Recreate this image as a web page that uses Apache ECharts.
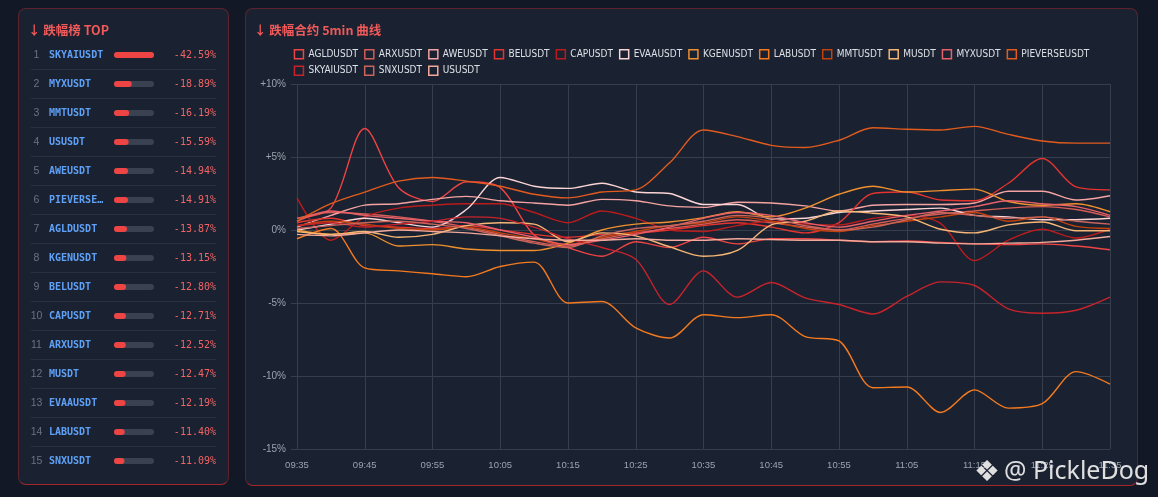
<!DOCTYPE html>
<html>
<head>
<meta charset="utf-8">
<script src="https://cdn.jsdelivr.net/npm/echarts@6/dist/echarts.min.js"></script>
<style>
  html, body { margin: 0; padding: 0; background: #121826; width: 1158px; height: 497px; overflow: hidden; }
  .panel {
    position: absolute;
    background: #1a2130;
    border: 1px solid rgba(200, 40, 40, 0.38);
    border-bottom-color: rgba(210, 40, 40, 0.75);
    border-radius: 8px;
  }
  #rankPanel { left: 18px; top: 8px; width: 209px; height: 475px; }
  #curvePanel { left: 245px; top: 8px; width: 891px; height: 476px; }
  #rankChart { width: 209px; height: 475px; }
  #curveChart { width: 891px; height: 476px; }
  #mark {
    position: absolute; left: 974px; top: 452px;
    font-family: "Noto Sans", "Open Sans", sans-serif; font-size: 25px;
    color: rgba(240, 240, 240, 0.92); white-space: nowrap;
  }
  #mark .logo { font-family: "DejaVu Sans", sans-serif; font-size: 29px; margin-right: 4px; vertical-align: -2px; }
</style>
</head>
<body>
<div class="panel" id="rankPanel"><div id="rankChart"></div></div>
<div class="panel" id="curvePanel"><div id="curveChart"></div></div>
<div id="mark"><span class="logo">❖</span>@ PickleDog</div>
<script>
// 跌幅榜 TOP 15
const rankNames = ['SKYAIUSDT', 'MYXUSDT', 'MMTUSDT', 'USUSDT', 'AWEUSDT', 'PIEVERSEUSDT', 'AGLDUSDT', 'KGENUSDT',
  'BELUSDT', 'CAPUSDT', 'ARXUSDT', 'MUSDT', 'EVAAUSDT', 'LABUSDT', 'SNXUSDT'];
const rankDrops = [-42.59, -18.89, -16.19, -15.59, -14.94, -14.91, -13.87, -13.15, -12.80, -12.71, -12.52, -12.47, -12.19, -11.40, -11.09];

// 5min 曲线
const times = ['09:35', '09:40', '09:45', '09:50', '09:55', '10:00', '10:05', '10:10', '10:15', '10:20', '10:25', '10:30', '10:35',
  '10:40', '10:45', '10:50', '10:55', '11:00', '11:05', '11:10', '11:15', '11:20', '11:25', '11:30', '11:35'];
const yTicks = [-15, -10, -5, 0, 5, 10];

const AGLDUSDT = [0.8, 1.5, 6.95, 2.9, 1.95, 3.3, 2.9, -0.35, -1.2, -1.8, -0.8, -1.2, -0.5, -0.95, -0.6, -0.6, -0.7, -0.8, -0.75, -0.85, -0.95, -1.0, -0.95, -1.1, -1.35];
const ARXUSDT = [0.8, 1.2, 1.1, 0.9, 0.6, 0.2, -0.3, -0.8, -1.1, -0.6, -0.2, 0.1, 0.4, 0.7, 0.5, 0.2, 0.0, 0.4, 0.8, 1.1, 1.3, 1.5, 1.6, 1.4, 0.9];
const AWEUSDT = [0.2, 1.0, 1.7, 1.8, 2.1, 2.3, 2.0, 1.85, 1.7, 2.1, 2.0, 1.65, 1.55, 1.9, 1.85, 1.65, 1.3, 1.7, 1.75, 1.75, 1.85, 2.65, 2.65, 2.05, 2.35];
const BELUSDT = [0.5, 0.8, 0.3, 0.2, 0.1, 0.3, 0.0, -0.3, -0.5, -0.3, -0.2, 0.0, 0.3, 0.5, 0.2, -0.2, 0.5, 2.5, 2.6, 2.05, 2.0, 3.2, 4.9, 2.95, 2.75];
const CAPUSDT = [2.2, -0.7, 0.9, 1.5, 1.7, 1.8, 1.8, 1.2, 0.5, 1.3, 0.8, 0.0, -0.1, 0.3, 0.6, 0.4, 0.35, 0.8, 1.0, 0.45, -2.1, -0.7, 0.05, -0.55, 0.05];
const EVAAUSDT = [0.0, 0.4, 0.8, 0.5, 0.2, 1.4, 3.6, 3.0, 2.85, 3.2, 2.6, 2.5, 1.75, 1.75, 0.75, 0.8, 1.2, 1.3, 1.4, 1.5, 1.0, 0.9, 0.7, 0.7, 0.8];
const KGENUSDT = [0.0, -0.3, -0.2, -1.1, -1.0, -1.3, -1.4, -1.4, -0.9, 0.0, 0.4, 0.55, 0.85, 1.25, 0.9, 1.5, 2.45, 3.0, 2.6, 2.7, 2.8, 1.95, 1.7, 1.8, 1.25];
const LABUSDT = [-0.6, 0.1, -2.6, -2.8, -3.0, -3.2, -2.5, -2.2, -5.0, -4.9, -6.7, -7.4, -5.8, -6.0, -5.8, -7.3, -7.6, -10.8, -10.75, -12.5, -10.95, -12.2, -11.9, -9.7, -10.55];
const MMTUSDT = [0.3, 0.6, 0.4, 0.1, 0.0, 0.2, -0.2, -0.6, -1.0, -0.5, -0.1, 0.3, 0.5, 0.9, 0.6, 0.1, -0.1, 0.3, 0.6, 0.9, 1.2, 0.6, 0.9, 0.25, 0.1];
const MUSDT = [-0.1, -0.3, -0.1, -0.5, -0.3, 0.3, 0.5, 0.4, -0.8, -0.2, -0.4, -1.15, -1.8, -1.4, 0.35, 0.6, 1.3, 1.15, 0.9, 0.05, -0.2, 0.35, 0.55, -0.05, -0.05];
const MYXUSDT = [0.6, 1.3, 1.0, 0.8, 0.6, 0.5, 0.0, -0.5, -1.0, -0.7, -0.3, 0.2, 0.8, 1.2, 1.0, 0.5, 0.2, 0.6, 1.0, 1.3, 1.6, 2.0, 1.8, 1.6, 1.0];
const PIEVERSEUSDT = [0.6, 1.8, 2.6, 3.35, 3.6, 3.35, 3.0, 2.45, 2.2, 2.6, 2.75, 4.6, 6.85, 6.4, 5.8, 5.65, 6.15, 7.0, 6.9, 6.85, 7.1, 6.55, 6.1, 5.95, 5.95];
const SKYAIUSDT = [0.3, 0.5, 0.2, 0.4, 0.6, 0.9, 0.8, 0.2, -0.6, -1.2, -2.0, -5.1, -2.8, -4.6, -3.6, -4.65, -5.1, -5.75, -4.55, -3.55, -3.8, -5.4, -5.7, -5.5, -4.6];
const SNXUSDT = [0.1, 0.3, 0.5, 0.6, 0.4, 0.1, -0.4, -0.9, -1.2, -0.4, 0.1, 0.3, 0.6, 1.0, 0.8, 0.3, 0.0, 0.2, 0.7, 1.2, 1.0, 0.8, 0.9, 0.6, 0.4];
const USUSDT = [-0.3, -0.4, -0.2, 0.0, -0.1, -0.2, -0.4, -0.6, -0.7, -0.7, -0.6, -0.7, -0.7, -0.6, -0.65, -0.7, -0.7, -0.8, -0.8, -0.9, -0.95, -0.9, -0.85, -0.7, -0.45];

const curveNames = ['AGLDUSDT', 'ARXUSDT', 'AWEUSDT', 'BELUSDT', 'CAPUSDT', 'EVAAUSDT', 'KGENUSDT', 'LABUSDT',
  'MMTUSDT', 'MUSDT', 'MYXUSDT', 'PIEVERSEUSDT', 'SKYAIUSDT', 'SNXUSDT', 'USUSDT'];
const curveData = [AGLDUSDT, ARXUSDT, AWEUSDT, BELUSDT, CAPUSDT, EVAAUSDT, KGENUSDT, LABUSDT,
  MMTUSDT, MUSDT, MYXUSDT, PIEVERSEUSDT, SKYAIUSDT, SNXUSDT, USUSDT];
const curveColors = ['#ef4444', '#d45d57', '#f5a3a3', '#e3342f', '#b91c1c', '#fbd5d5', '#f0902e', '#f47a1f',
  '#c2410c', '#f6b676', '#e8616a', '#e25b1e', '#c8232b', '#c9655c', '#f3aa9c'];

const titleStyle = { color: '#f05a5a', fontSize: 12.5, fontWeight: 'bold', fontFamily: '"Noto Sans CJK SC", sans-serif' };
const panelBg = '#1a2130';

// ---------- 左侧榜单 ----------
const rankChart = echarts.init(document.getElementById('rankChart'));
rankChart.setOption({
  animation: false,
  title: { text: '↓ 跌幅榜 TOP', left: 4, top: 10, textStyle: titleStyle },
  grid: [
    { left: 95, right: 74, top: 31.5, bottom: 8.5 },
    { left: 12, right: 12, top: 60.5, bottom: 37.5 }
  ],
  xAxis: [
    { gridIndex: 0, type: 'value', min: 0, max: v => v.max, show: false },
    { gridIndex: 1, type: 'value', min: 0, max: 1, axisLine: { show: false }, axisTick: { show: false }, axisLabel: { show: false }, splitLine: { show: false } }
  ],
  yAxis: [
    {
      gridIndex: 0, type: 'category', inverse: true, data: rankNames,
      axisLine: { show: false }, axisTick: { show: false },
      axisLabel: {
        align: 'left', margin: 83,
        formatter: (name, i) => {
          const short = name.length > 9 ? name.slice(0, 8) + '…' : name;
          return '{r|' + (i + 1) + '}{n|' + short + '}';
        },
        rich: {
          r: { width: 11, align: 'center', color: '#6b7280', fontSize: 10.5, fontFamily: '"Liberation Sans", sans-serif' },
          n: { color: '#5ea1f7', fontSize: 10, fontWeight: 'bold', fontFamily: '"DejaVu Sans Mono", monospace', padding: [0, 0, 0, 7] }
        }
      }
    },
    {
      gridIndex: 0, type: 'category', inverse: true, position: 'right', data: rankDrops,
      axisLine: { show: false }, axisTick: { show: false },
      axisLabel: {
        align: 'right', margin: 62, color: '#f26464', fontSize: 10, fontFamily: '"DejaVu Sans Mono", monospace',
        formatter: v => Number(v).toFixed(2) + '%'
      }
    },
    {
      gridIndex: 1, type: 'value', min: 0, max: 13, interval: 1,
      axisLine: { show: false }, axisTick: { show: false }, axisLabel: { show: false },
      splitLine: { lineStyle: { color: '#283041', width: 1 } }
    }
  ],
  series: [{
    type: 'bar', xAxisIndex: 0, yAxisIndex: 0,
    data: rankDrops.map(v => Math.abs(v)),
    barWidth: 6,
    showBackground: true,
    backgroundStyle: { color: '#3a4251', borderRadius: 3 },
    itemStyle: { color: '#ef4444', borderRadius: 3 }
  }]
});

// ---------- 右侧曲线 ----------
const curveChart = echarts.init(document.getElementById('curveChart'));
curveChart.setOption({
  animation: false,
  title: { text: '↓ 跌幅合约 5min 曲线', left: 3, top: 10, textStyle: titleStyle },
  legend: {
    left: 'center', top: 35, width: 800,
    icon: 'rect', itemWidth: 9, itemHeight: 9, itemGap: 6,
    textStyle: { color: '#dde1e7', fontSize: 10, lineHeight: 10, fontFamily: '"DejaVu Sans Condensed", "Liberation Sans", sans-serif' },
    data: curveNames.map((n, i) => ({ name: n, itemStyle: { color: panelBg, borderColor: curveColors[i], borderWidth: 1.5 } }))
  },
  grid: { left: 51, right: 27, top: 75, bottom: 36 },
  xAxis: {
    type: 'category', boundaryGap: false, data: times,
    axisLine: { lineStyle: { color: '#363e4d' } },
    axisTick: { show: true, interval: 1, length: 5, lineStyle: { color: '#363e4d' } },
    axisLabel: { interval: 1, color: '#9ca3af', fontSize: 9.5, margin: 11, fontFamily: '"Liberation Sans", sans-serif' },
    splitLine: { show: true, interval: 1, lineStyle: { color: '#363e4d' } }
  },
  yAxis: {
    type: 'value', min: yTicks[0], max: yTicks[yTicks.length - 1], interval: 5,
    axisLine: { show: false },
    axisTick: { show: true, length: 6, lineStyle: { color: '#363e4d' } },
    axisLabel: { color: '#9ca3af', fontSize: 10, margin: 11, fontFamily: '"Liberation Sans", sans-serif',
      formatter: v => (v > 0 ? '+' : '') + v + '%' },
    splitLine: { lineStyle: { color: '#363e4d' } }
  },
  series: curveNames.map((n, i) => ({
    name: n, type: 'line', data: curveData[i],
    smooth: 0.3, symbol: 'none',
    lineStyle: { width: 1.4, color: curveColors[i] },
    itemStyle: { color: curveColors[i] }
  }))
});
</script>
</body>
</html>
